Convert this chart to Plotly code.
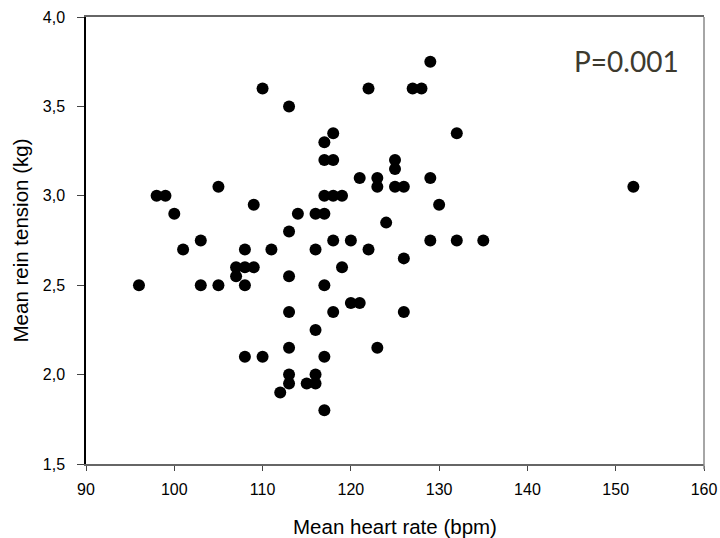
import plotly.graph_objects as go

heart_rate = [110, 113, 122, 118, 117, 117, 118, 125, 125, 125, 126, 123, 123, 121, 105,
              98, 99, 100, 109, 117, 118, 119, 114, 116, 117, 113, 124, 103, 118, 120,
              101, 108, 111, 116, 122, 126, 129, 132, 135, 130, 129, 132, 127, 128, 129,
              152, 107, 108, 109, 107, 119, 96, 103, 105, 108, 113, 117, 120, 121, 113,
              118, 126, 116, 113, 123, 108, 110, 117, 113, 113, 116, 115, 116, 112, 117]
rein_tension = [3.6, 3.5, 3.6, 3.35, 3.3, 3.2, 3.2, 3.2, 3.15, 3.05, 3.05, 3.1, 3.05, 3.1, 3.05,
                3.0, 3.0, 2.9, 2.95, 3.0, 3.0, 3.0, 2.9, 2.9, 2.9, 2.8, 2.85, 2.75, 2.75, 2.75,
                2.7, 2.7, 2.7, 2.7, 2.7, 2.65, 2.75, 2.75, 2.75, 2.95, 3.1, 3.35, 3.6, 3.6, 3.75,
                3.05, 2.6, 2.6, 2.6, 2.55, 2.6, 2.5, 2.5, 2.5, 2.5, 2.55, 2.5, 2.4, 2.4, 2.35,
                2.35, 2.35, 2.25, 2.15, 2.15, 2.1, 2.1, 2.1, 2.0, 1.95, 2.0, 1.95, 1.95, 1.9, 1.8]

x_ticks = [90, 100, 110, 120, 130, 140, 150, 160]
y_ticks = [1.5, 2.0, 2.5, 3.0, 3.5, 4.0]

W, H = 720, 538
L, T, R, B = 86, 17, 16, 74
pw, ph = W - L - R, H - T - B


def px_x(page_x):
    return (page_x - L) / pw


def px_y(page_y):
    return (H - B - page_y) / ph


fig = go.Figure()
fig.add_trace(go.Scatter(
    x=heart_rate, y=rein_tension, mode="markers",
    marker=dict(color="black", size=12, line=dict(width=0)),
    showlegend=False,
))

fig.update_layout(
    width=W, height=H,
    margin=dict(l=L, r=R, t=T, b=B, autoexpand=False),
    paper_bgcolor="white", plot_bgcolor="white",
    separators=",.",
    font=dict(family="Liberation Sans, Arial, sans-serif", color="black"),
    xaxis=dict(
        range=[90, 160], tickvals=x_ticks, showgrid=False, zeroline=False,
        showline=True, linecolor="#666666", linewidth=1.5, mirror=True,
        ticks="outside", ticklen=5, tickcolor="#444444",
        tickfont=dict(size=16), ticklabelstandoff=5, automargin=False,
    ),
    yaxis=dict(
        range=[1.5, 4.0], tickvals=y_ticks, tickformat=".1f", showgrid=False, zeroline=False,
        showline=True, linecolor="black", linewidth=1.5,
        ticks="outside", ticklen=7, tickcolor="#444444",
        tickfont=dict(size=16), ticklabelstandoff=9, automargin=False,
    ),
    shapes=[dict(type="line", xref="paper", yref="paper", x0=1, x1=1, y0=-0.012, y1=1,
                 line=dict(color="#888888", width=1.5))],
    annotations=[
        dict(text="P=0.001", xref="paper", yref="paper", x=px_x(681), y=px_y(61),
             xanchor="right", yanchor="middle", showarrow=False,
             font=dict(size=28, family="Lato, Open Sans, sans-serif", color="#3d3a2e")),
        dict(text="Mean heart rate (bpm)", xref="paper", yref="paper", x=0.5, y=px_y(526),
             xanchor="center", yanchor="middle", showarrow=False, font=dict(size=20.5)),
        dict(text="Mean rein tension (kg)", xref="paper", yref="paper", x=px_x(20), y=0.5,
             xanchor="center", yanchor="middle", showarrow=False, textangle=-90,
             font=dict(size=20.5)),
    ],
)

fig.write_html("out.html", config={"displayModeBar": False},
               post_script="document.body.style.margin='0';document.body.style.overflow='hidden';")
